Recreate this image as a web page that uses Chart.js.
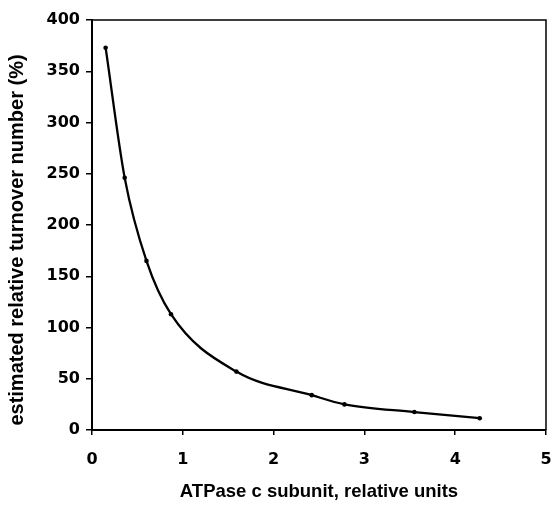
<!DOCTYPE html>
<html>
<head>
<meta charset="utf-8">
<script src="https://cdn.jsdelivr.net/npm/chart.js@4.4.0/dist/chart.umd.min.js"></script>
<style>
  html, body { margin: 0; padding: 0; background: #fff; }
  #wrap { width: 551px; height: 506px; position: relative; }
</style>
</head>
<body>
<div id="wrap"><canvas id="chart"></canvas></div>
<script>
  // ATPase c subunit (relative units) vs estimated turnover number (%)
  const subunitLevels = [0.15, 0.36, 0.60, 0.87, 1.59, 2.42, 2.78, 3.55, 4.27];
  const turnoverPct   = [373, 246, 165, 113, 57, 34, 25, 17.5, 11.5];
  const xTicks = [0, 1, 2, 3, 4, 5];
  const yTicks = [0, 50, 100, 150, 200, 250, 300, 350, 400];
  const yTitle = 'estimated relative turnover number (%)';

  const points = subunitLevels.map((x, i) => ({ x: x, y: turnoverPct[i] }));
  const TICK_FONT = "'DejaVu Sans', Verdana, sans-serif";
  const TITLE_FONT = "'Liberation Sans', Arial, sans-serif";

  // closes the frame (top + right) and writes the y title a bit below centre, like the scan
  const frame = {
    id: 'frame',
    afterDraw(chart) {
      const a = chart.chartArea, ctx = chart.ctx;
      ctx.save();
      ctx.strokeStyle = '#000';
      ctx.lineWidth = 1.5;
      ctx.beginPath();
      ctx.moveTo(a.left, a.top);
      ctx.lineTo(a.right, a.top);
      ctx.lineTo(a.right, a.bottom);
      ctx.stroke();

      ctx.translate(17, (a.top + a.bottom) / 2 + 15);
      ctx.rotate(-Math.PI / 2);
      ctx.font = 'bold 20px ' + TITLE_FONT;
      ctx.fillStyle = '#000';
      ctx.textAlign = 'center';
      ctx.textBaseline = 'middle';
      ctx.fillText(yTitle, 0, 0);
      ctx.restore();
    }
  };

  new Chart(document.getElementById('chart'), {
    type: 'scatter',
    data: {
      datasets: [{
        data: points,
        showLine: true,
        cubicInterpolationMode: 'monotone',
        borderColor: '#000',
        borderWidth: 2.3,
        pointRadius: 2.3,
        pointBackgroundColor: '#000',
        pointBorderWidth: 0
      }]
    },
    options: {
      responsive: true,
      maintainAspectRatio: false,
      animation: false,
      layout: { padding: { top: 20, right: 5, left: 0, bottom: 0 } },
      plugins: { legend: { display: false }, tooltip: { enabled: false } },
      scales: {
        x: {
          type: 'linear', min: 0, max: 5,
          afterBuildTicks: (s) => { s.ticks = xTicks.map(v => ({ value: v })); },
          afterFit: (s) => { s.height = 76; s.paddingLeft = 0; s.paddingRight = 0; },
          border: { display: true, color: '#000', width: 2 },
          grid: { drawOnChartArea: false, drawTicks: true, tickLength: 5, color: '#000', lineWidth: 1.5 },
          ticks: { color: '#000', padding: 15, font: { family: TICK_FONT, size: 16, weight: 'bold' }, maxRotation: 0 },
          title: {
            display: true, text: 'ATPase c subunit, relative units', color: '#000',
            font: { family: TITLE_FONT, size: 18.5, weight: 'bold' }, padding: { top: 0, bottom: 3 }
          }
        },
        y: {
          type: 'linear', min: 0, max: 400,
          afterBuildTicks: (s) => { s.ticks = yTicks.map(v => ({ value: v })); },
          afterFit: (s) => { s.width = 92; s.paddingTop = 0; s.paddingBottom = 0; },
          border: { display: true, color: '#000', width: 2 },
          grid: { drawOnChartArea: false, drawTicks: true, tickLength: 6, color: '#000', lineWidth: 1.5 },
          ticks: { color: '#000', padding: 6, font: { family: TICK_FONT, size: 16, weight: 'bold' } },
          title: { display: false }
        }
      }
    },
    plugins: [frame]
  });
</script>
</body>
</html>
